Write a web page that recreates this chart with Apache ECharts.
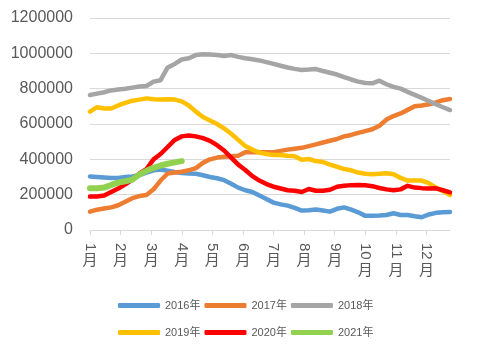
<!DOCTYPE html>
<html>
<head>
<meta charset="utf-8">
<script src="https://cdn.jsdelivr.net/npm/echarts@6/dist/echarts.min.js"></script>
<style>html,body{margin:0;padding:0;background:#fff}#c{width:481px;height:348px}</style>
</head>
<body>
<div id="c"></div>
<script>
// weekly data (52 weeks per year)
const monthLabels = ['1','2','3','4','5','6','7','8','9','10','11','12'];
const seriesNames = ['2016年','2017年','2018年','2019年','2020年','2021年'];
const y2016 = [303000,300000,297000,294000,295000,300000,303000,310000,325000,338000,342000,335000,328000,323000,320000,318000,310000,300000,293000,282000,262000,240000,225000,215000,195000,175000,155000,145000,138000,125000,110000,112000,116000,110000,104000,120000,128000,115000,100000,80000,80000,82000,85000,95000,85000,85000,78000,72000,88000,97000,100000,102000];
const y2017 = [104000,115000,122000,128000,140000,160000,180000,192000,198000,230000,280000,320000,326000,330000,338000,350000,380000,400000,410000,415000,418000,420000,440000,440000,440000,440000,440000,448000,455000,460000,465000,475000,485000,495000,505000,515000,530000,538000,550000,560000,570000,590000,625000,645000,660000,680000,700000,705000,712000,722000,735000,741000];
const y2018 = [764000,772000,780000,790000,795000,800000,806000,812000,815000,840000,848000,920000,940000,965000,972000,990000,995000,994000,990000,985000,990000,980000,972000,966000,960000,950000,940000,930000,920000,912000,906000,908000,911000,900000,890000,880000,866000,852000,840000,832000,830000,845000,825000,810000,800000,782000,765000,748000,730000,712000,695000,679000];
const y2019 = [670000,695000,688000,688000,705000,720000,732000,738000,745000,740000,738000,740000,738000,728000,705000,670000,640000,620000,600000,575000,545000,510000,475000,455000,438000,430000,425000,425000,420000,418000,398000,402000,390000,385000,370000,358000,345000,338000,325000,318000,316000,318000,321000,315000,295000,280000,280000,280000,265000,240000,220000,198000];
const y2020 = [189000,190000,195000,215000,235000,258000,285000,320000,345000,400000,430000,470000,510000,530000,535000,530000,520000,505000,480000,450000,410000,370000,340000,305000,280000,260000,245000,235000,225000,222000,215000,232000,222000,222000,228000,245000,250000,254000,255000,253000,248000,238000,230000,225000,230000,250000,240000,237000,235000,236000,225000,213000];
const y2021 = [236000,236000,240000,255000,268000,276000,285000,315000,335000,352000,365000,375000,383000,390000];
const yTicks = [0,200000,400000,600000,800000,1000000,1200000];

const WEEKS = 52;
const monthPos = monthLabels.map((m,i)=> i*WEEKS/12);
const toPairs = arr => arr.map((v,i)=>[i,v]);
const FONT = '"Liberation Sans","Noto Sans CJK SC",sans-serif';
const colors = ['#5b9bd5','#ed7d31','#a5a5a5','#ffc000','#ff0000','#92d050'];
const data = [y2016,y2017,y2018,y2019,y2020,y2021];

const monthIdx = v => Math.round(v*12/WEEKS);

const chart = echarts.init(document.getElementById('c'));
chart.setOption({
  animation:false,
  color: colors,
  grid:{left:90,right:31,top:18,bottom:118,containLabel:false},
  xAxis:[{
    type:'value', min:0, max:WEEKS-1,
    axisLine:{show:true,lineStyle:{color:'#d9d9d9',width:1}},
    axisTick:{show:true,length:5,lineStyle:{color:'#d9d9d9'},customValues:monthPos},
    splitLine:{show:false},
    axisLabel:{customValues:monthPos,rotate:-90,margin:13,fontSize:15,color:'#595959',fontFamily:FONT,
      formatter:v=>monthLabels[monthIdx(v)]}
  },{
    type:'value', min:0, max:WEEKS-1, position:'bottom',
    axisLine:{show:false}, axisTick:{show:false}, splitLine:{show:false},
    axisLabel:{customValues:monthPos,margin:23,fontSize:15,color:'#595959',fontFamily:FONT,
      formatter:v=>{const s=monthLabels[monthIdx(v)]; return s.length>1?'{d|月}':'{s|月}';},
      rich:{s:{fontSize:15,color:'#595959',fontFamily:FONT},d:{fontSize:15,color:'#595959',fontFamily:FONT,padding:[10,0,0,0]}}}
  }],
  yAxis:{
    type:'value', min:0, max:1200000, interval:200000,
    axisLine:{show:false}, axisTick:{show:false},
    splitLine:{lineStyle:{color:'#d9d9d9',width:1}},
    axisLabel:{margin:17,fontSize:16,color:'#595959',fontFamily:FONT,
      formatter:v=> yTicks.includes(v)? String(v):''}
  },
  legend:[{
    data:seriesNames.slice(0,3), left:118, top:300, padding:0, icon:'roundRect', itemWidth:42, itemHeight:5, itemGap:4,
    textStyle:{fontSize:11,color:'#595959',fontFamily:FONT}
  },{
    data:seriesNames.slice(3), left:118, top:327, padding:0, icon:'roundRect', itemWidth:42, itemHeight:5, itemGap:4,
    textStyle:{fontSize:11,color:'#595959',fontFamily:FONT}
  }],
  series: seriesNames.map((n,k)=>({
    name:n, type:'line', xAxisIndex:0, data:toPairs(data[k]), showSymbol:false, symbol:'none',
    lineStyle:{width: k===5?6:4.5, color:colors[k], cap:'round', join:'round'},
    itemStyle:{color:colors[k]}
  }))
});
</script>
</body>
</html>
